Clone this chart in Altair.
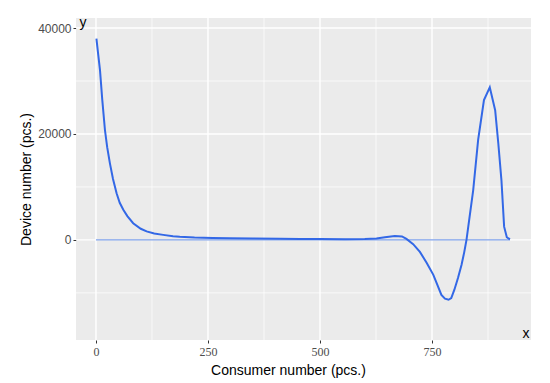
import altair as alt
import pandas as pd

# Main curve (consumer number vs device number)
consumer = [1, 5, 9, 14, 20, 25, 31, 38, 46, 53, 61, 70, 83, 100, 113, 130, 150, 172, 187,
            220, 260, 299, 350, 411, 455, 500, 556, 600, 626, 645, 667, 683, 693, 708, 723,
            738, 753, 762, 771, 779, 787, 793, 800, 808, 816, 822, 827, 831, 842, 853, 866,
            879, 891, 898, 905, 911, 917, 924]
device = [38000, 35000, 32000, 26500, 20750, 17500, 14500, 11500, 8800, 7000, 5700, 4500,
          3150, 2100, 1600, 1200, 950, 700, 600, 450, 350, 300, 250, 200, 150, 180, 120, 150,
          250, 500, 750, 650, 200, -800, -2260, -4300, -6600, -8500, -10400, -11100, -11300,
          -11000, -9400, -7200, -4700, -2300, 0, 2500, 9400, 18900, 26400, 28800, 24500,
          18250, 11300, 2500, 500, 100]

# Thin baseline series
base_x = [0, 924]
base_y = [0, 0]

x_major = [0, 250, 500, 750]
x_minor = [125, 375, 625, 875]
y_major = [0, 20000, 40000]
y_minor = [-10000, 10000, 30000]

x_dom = [-44.6, 971]
y_dom = [-18900, 41900]

W, H = 455, 322

main = pd.DataFrame({"x": consumer, "y": device})
base = pd.DataFrame({"x": base_x, "y": base_y})

xs = alt.Scale(domain=x_dom, nice=False, zero=False)
ys = alt.Scale(domain=y_dom, nice=False, zero=False)

xaxis = alt.Axis(title="Consumer number (pcs.)", values=x_major, grid=False,
                 domain=False, tickColor="#333333", tickSize=3, format="d",
                 labelColor="#4d4d4d", labelFont="Liberation Serif",
                 labelFontSize=12, labelPadding=3,
                 titleFont="Liberation Sans", titleFontSize=14,
                 titleFontWeight="normal", titleColor="black",
                 titleX=212, titlePadding=6)
yaxis = alt.Axis(title="Device number (pcs.)", values=y_major, grid=False,
                 domain=False, tickColor="#333333", tickSize=3, format="d",
                 labelColor="#4d4d4d", labelFont="Liberation Sans",
                 labelFontSize=12, labelPadding=2,
                 titleFont="Liberation Sans", titleFontSize=14,
                 titleFontWeight="normal", titleColor="black",
                 titlePadding=4)

X = alt.X("x:Q", scale=xs, axis=xaxis)
Y = alt.Y("y:Q", scale=ys, axis=yaxis)

xgrid_minor = alt.Chart(pd.DataFrame({"x": x_minor})).mark_rule(
    color="white", strokeWidth=0.7).encode(x=X)
ygrid_minor = alt.Chart(pd.DataFrame({"y": y_minor})).mark_rule(
    color="white", strokeWidth=0.7).encode(y=Y)
xgrid = alt.Chart(pd.DataFrame({"x": x_major})).mark_rule(
    color="white", strokeWidth=1.4).encode(x=X)
ygrid = alt.Chart(pd.DataFrame({"y": y_major})).mark_rule(
    color="white", strokeWidth=1.4).encode(y=Y)

line_base = alt.Chart(base).mark_line(color="#3a6fe0", strokeWidth=1, opacity=0.8).encode(
    x=X, y=Y)

line = alt.Chart(main).mark_line(color="#3368e6", strokeWidth=2).encode(x=X, y=Y)

ylab = alt.Chart(pd.DataFrame({"t": ["y"]})).mark_text(
    font="Liberation Sans", fontSize=14, color="black", align="center", baseline="middle"
).encode(x=alt.value(7), y=alt.value(5), text="t:N")
xlab = alt.Chart(pd.DataFrame({"t": ["x"]})).mark_text(
    font="Liberation Sans", fontSize=14, color="black", align="center", baseline="middle"
).encode(x=alt.value(450), y=alt.value(316), text="t:N")

chart = alt.layer(
    xgrid_minor, ygrid_minor, xgrid, ygrid, line_base, line, ylab, xlab
).properties(
    width=W, height=H,
    background="white",
    autosize=alt.AutoSizeParams(type="none"),
    padding={"left": 68, "top": 10, "right": 11, "bottom": 43},
).configure_view(
    fill="#ebebeb", strokeWidth=0
)

chart.save("out.html", embed_options={"renderer": "svg", "actions": False})
